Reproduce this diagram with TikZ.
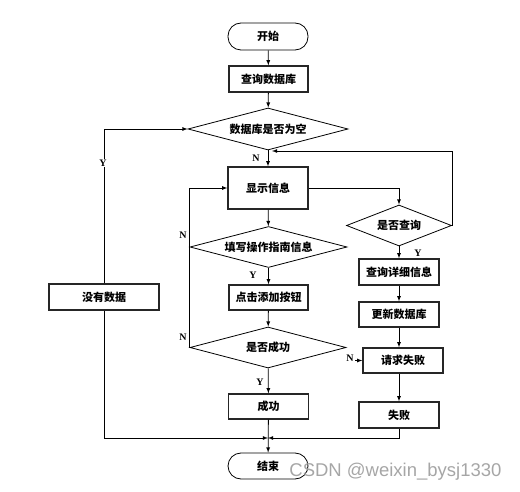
\documentclass[tikz,border=0pt]{standalone}
\usepackage{fontspec}
\setmainfont{Liberation Serif}
\setsansfont{Liberation Sans}
\newfontfamily\cjk{Noto Sans CJK SC}
\usetikzlibrary{shapes.geometric}

\begin{document}
\begin{tikzpicture}[x=1pt,y=-1pt,>=latex,line width=0.8pt,
    every node/.style={font=\cjk\bfseries\fontsize{11}{13}\selectfont,inner sep=0pt},
    box/.style={draw=black!85,line width=1.3pt,minimum width=80pt,minimum height=26pt},
    term/.style={draw,rounded corners=13pt,minimum width=80pt,minimum height=27pt},
    decide/.style={draw,diamond,aspect=4,minimum width=157pt,minimum height=41pt},
    lbl/.style={font=\bfseries\fontsize{10}{12}\selectfont}]
        \useasboundingbox (0,0) rectangle (520,492);
        % main column
        \node[term] (start) at (268,36.5) {开始};
        \node[box,minimum width=79pt] (query) at (268.5,79) {查询数据库};
        \node[decide,minimum width=160pt,minimum height=42pt] (empty) at (268,129) {数据库是否为空};
        \node[box,minimum height=42pt] (show) at (268,188) {显示信息};
        \node[decide] (fill) at (268.5,247) {填写操作指南信息};
        \node[box,minimum width=79pt,minimum height=25pt] (click) at (268.5,297.5) {点击添加按钮};
        \node[decide,minimum width=156pt] (succ) at (268,347.5) {是否成功};
        \node[box,minimum height=25pt] (ok) at (268.5,406.5) {成功};
        \node[term,minimum height=26pt] (end) at (268,466) {结束};
        % side columns
        \node[box,minimum width=110pt] (nodata) at (104,297) {没有数据};
        \node[decide,minimum width=105pt] (ask) at (399,225.5) {是否查询};
        \node[box] (detail) at (399,272) {查询详细信息};
        \node[box,minimum height=25pt] (update) at (399,314.5) {更新数据库};
        \node[box,minimum height=25pt] (reqfail) at (403,360.5) {请求失败};
        \node[box] (fail) at (399,415) {失败};
        \coordinate (loop) at (452,151);
        \coordinate (back) at (272,151);
        \coordinate (merge) at (268,438);
        \coordinate (nfrom) at (355,360.5);
        % connectors
        \draw[->] (start) -- (query);
        \draw[->] (query) -- (empty);
        \draw[->] (empty) -- (show);
        \draw[->] (show) -- (fill);
        \draw[->] (fill) -- (click);
        \draw[->] (click) -- (succ);
        \draw[->] (succ) -- (ok);
        \draw[->] (ok) -- (end);
        \draw[->] (nodata) |- (empty);
        \draw[->] (nodata) |- (merge);
        \draw[->] (fail) |- (merge);
        \draw (succ.west) -- (fill.west);
        \draw[->] (fill.west) |- (show.west);
        \draw[->] (show) -| (ask);
        \draw[->] (ask) -| (loop) -- (back);
        \draw[->] (ask) -- (detail);
        \draw[->] (detail) -- (update);
        \draw[->] (update) -- (update |- reqfail.north);
        \draw[->] (reqfail.south -| fail) -- (fail);
        \draw[->] (nfrom) -- (reqfail);
        % labels
        \node[lbl,fill=white,inner sep=1pt] (yempty) at (103,163) {Y};
        \node[lbl] (nempty) at (256,158) {N};
        \node[lbl] (nfill) at (183,235) {N};
        \node[lbl] (yfill) at (253,275) {Y};
        \node[lbl] (nsucc) at (183,337) {N};
        \node[lbl] (ysucc) at (260,382) {Y};
        \node[lbl] (yask) at (418,253) {Y};
        \node[lbl] (nreq) at (350,358) {N};
        \node[font=\sffamily\fontsize{18.5}{20}\selectfont,text=black!35,anchor=west] (wm) at (289,472) {CSDN @weixin\_bysj1330};
    \end{tikzpicture}
\end{document}
